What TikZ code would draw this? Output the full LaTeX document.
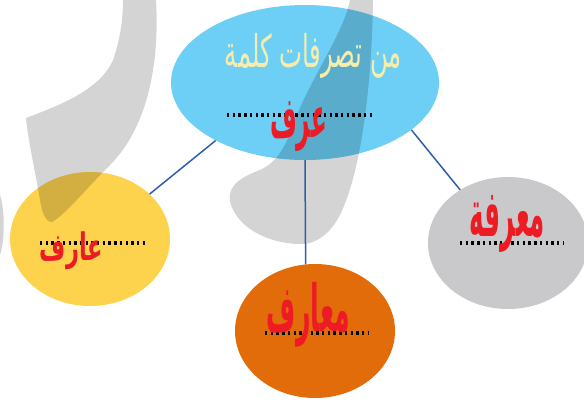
\documentclass[tikz,border=0pt]{standalone}
\usepackage{fontspec}
\usepackage{graphicx}
\usetikzlibrary{shapes.geometric}
\TeXXeTstate=1
\newfontfamily\arabicfont[Script=Arabic]{DejaVu Sans}
\definecolor{skyfill}{HTML}{6DCFF6}
\definecolor{sunfill}{HTML}{FDD34D}
\definecolor{rustfill}{HTML}{E36C0A}
\definecolor{ashfill}{HTML}{C9C9CB}
\definecolor{wordred}{HTML}{ED1C24}
\definecolor{paleword}{HTML}{F6EDAA}
\definecolor{linkblue}{HTML}{2F5FAA}
\newcommand{\fitword}[3]{\resizebox*{#1}{#2}{\arabicfont\bfseries\beginR #3\endR}}
\tikzset{
  bubble/.style={ellipse, inner sep=0pt, draw=none},
  link/.style={draw=linkblue, line width=1.5pt},
  dotrule/.style={line width=4pt, dash pattern=on 2.4pt off 3.3pt},
  word/.style={text=wordred, inner sep=0pt},
  watermark/.style={fill=black, fill opacity=0.17, draw=none}
}

\begin{document}
\begin{tikzpicture}[x=1pt, y=-1pt]
  \useasboundingbox (0,0) rectangle (584,402);
  \clip (0,0) rectangle (584,402);
  \fill[white] (0,0) rectangle (584,402);

  \node[bubble, fill=skyfill, minimum width=268, minimum height=155] (root) at (305,82.5) {};
  \node[bubble, fill=sunfill, minimum width=160, minimum height=134] (agent) at (90,239) {};
  \node[bubble, fill=rustfill, minimum width=160, minimum height=134] (plural) at (315,331) {};
  \node[bubble, fill=ashfill, minimum width=160, minimum height=132] (noun) at (508,243) {};

  \fill[watermark] (123,0) -- (156,0) .. controls (160,70) and (145,130) .. (110,165)
    .. controls (85,190) and (65,215) .. (52,222) .. controls (45,222) and (42,212) .. (40,200)
    .. controls (35,170) and (28,140) .. (26,118) .. controls (60,105) and (100,90) .. (113,60)
    .. controls (120,40) and (123,20) .. (123,0) -- cycle;
  \fill[watermark] (350,0) -- (373,0) .. controls (372,80) and (362,170) .. (340,215)
    .. controls (328,238) and (312,245) .. (298,244) .. controls (270,243) and (240,230) .. (231,205)
    .. controls (226,190) and (235,180) .. (255,172) .. controls (275,165) and (285,150) .. (295,120)
    .. controls (310,80) and (345,30) .. (350,0) -- cycle;
  \fill[watermark] (0,195) .. controls (5,210) and (5,240) .. (0,255) -- cycle;

  \draw[link] (root.213.6) -- (agent.37);
  \draw[link] (root.south) -- (plural.98);
  \draw[link] (root.336) -- (noun.132);

  \draw[dotrule] (227,115) -- (374,115);
  \draw[dotrule] (40,243) -- (146,243);
  \draw[dotrule] (460,243) -- (564,243);
  \draw[dotrule] (265,333) -- (369,333);

  \node[text=paleword, inner sep=0pt] (caption) at (313.5,55.5) {\resizebox*{177pt}{45pt}{\arabicfont\beginR من تصرفات كلمة\endR}};
  \node[word] (rootword) at (298.5,127) {\fitword{57pt}{50pt}{عرف}};
  \node[word] (agentword) at (71.5,251) {\fitword{63pt}{38pt}{عارف}};
  \node[word] (pluralword) at (308.5,314.5) {\fitword{83pt}{65pt}{معارف}};
  \node[word] (nounword) at (507.5,223.5) {\fitword{75pt}{57pt}{معرفة}};
\end{tikzpicture}
\end{document}
